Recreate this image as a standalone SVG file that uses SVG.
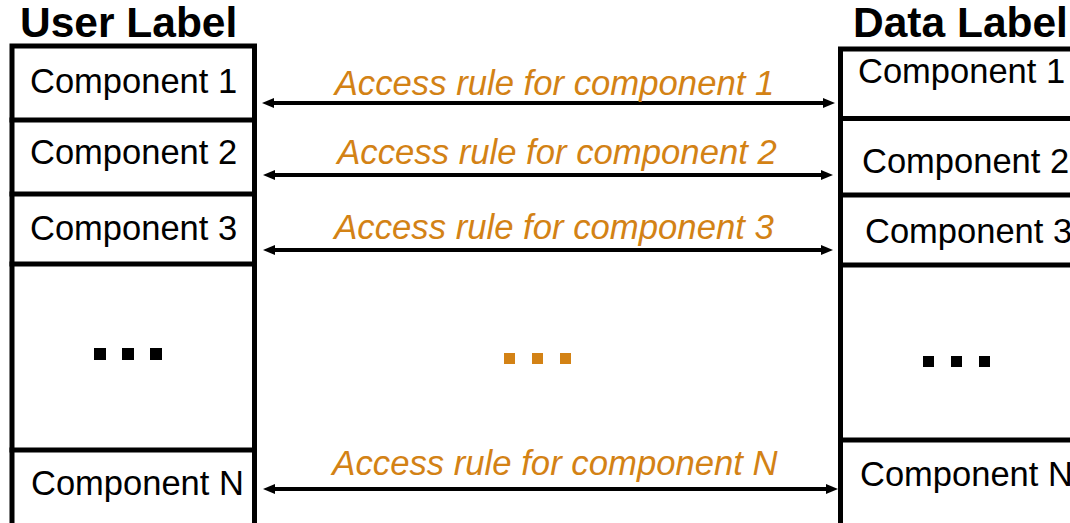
<svg xmlns="http://www.w3.org/2000/svg" width="1070" height="523" viewBox="0 0 1070 523">
  <style>
    .title { font-family: "Liberation Sans", Arial, sans-serif; font-weight: bold; font-size: 42.5px; fill: #000; }
    .comp { font-family: "Liberation Sans", Arial, sans-serif; font-size: 34.5px; fill: #000; }
    .rule { font-family: "Liberation Sans", Arial, sans-serif; font-style: italic; font-size: 34.7px; fill: #D38215; }
    .frame { stroke: #000; stroke-width: 5; fill: none; stroke-linecap: square; }
    .link { stroke: #000; stroke-width: 4; fill: none; }
    .dot { fill: #000; }
    .odot { fill: #D38215; }
  </style>
  <defs>
    <marker id="head" viewBox="0 -6 12 12" refX="0" refY="0" markerWidth="12" markerHeight="12" markerUnits="userSpaceOnUse" orient="auto-start-reverse">
      <path d="M0,-5 L12,0 L0,5 Z" fill="#000"/>
    </marker>
  </defs>

  <!-- user-side stack -->
  <g id="user-label"><text class="title" x="20" y="37">User Label</text></g>
  <g id="user-frame">
    <path class="frame" d="M12,530 V46 H254.5 V530"/>
  </g>
  <g id="user-c1"><text class="comp" x="30" y="93">Component 1</text></g>
  <g id="user-c2">
    <line class="frame" x1="12" y1="120" x2="254.5" y2="120"/>
    <text class="comp" x="30" y="164">Component 2</text>
  </g>
  <g id="user-c3">
    <line class="frame" x1="12" y1="194" x2="254.5" y2="194"/>
    <text class="comp" x="30" y="240">Component 3</text>
  </g>
  <g id="user-more">
    <line class="frame" x1="12" y1="264" x2="254.5" y2="264"/>
    <rect class="dot" x="94" y="348" width="12" height="12"/>
    <rect class="dot" x="122" y="348" width="12" height="12"/>
    <rect class="dot" x="150" y="348" width="12" height="12"/>
  </g>
  <g id="user-cN">
    <line class="frame" x1="12" y1="450" x2="254.5" y2="450"/>
    <text class="comp" x="31" y="495">Component N</text>
  </g>

  <!-- data-side stack -->
  <g id="data-label"><text class="title" x="853" y="37">Data Label</text></g>
  <g id="data-frame">
    <path class="frame" d="M840.5,530 V49 H1080"/>
  </g>
  <g id="data-c1"><text class="comp" x="858" y="83">Component 1</text></g>
  <g id="data-c2">
    <line class="frame" x1="840.5" y1="118.5" x2="1080" y2="118.5"/>
    <text class="comp" x="862" y="173">Component 2</text>
  </g>
  <g id="data-c3">
    <line class="frame" x1="840.5" y1="195" x2="1080" y2="195"/>
    <text class="comp" x="865" y="243">Component 3</text>
  </g>
  <g id="data-more">
    <line class="frame" x1="840.5" y1="265" x2="1080" y2="265"/>
    <rect class="dot" x="923" y="356" width="11" height="11"/>
    <rect class="dot" x="951" y="356" width="11" height="11"/>
    <rect class="dot" x="979" y="356" width="11" height="11"/>
  </g>
  <g id="data-cN">
    <line class="frame" x1="840.5" y1="440" x2="1080" y2="440"/>
    <text class="comp" x="860" y="486">Component N</text>
  </g>

  <!-- access rules between the stacks -->
  <g id="connectors">
    <line class="link" x1="274" y1="103" x2="823" y2="103" marker-start="url(#head)" marker-end="url(#head)"/>
    <line class="link" x1="275" y1="175" x2="821" y2="175" marker-start="url(#head)" marker-end="url(#head)"/>
    <line class="link" x1="275" y1="250" x2="821" y2="250" marker-start="url(#head)" marker-end="url(#head)"/>
    <line class="link" x1="275" y1="489" x2="826" y2="489" marker-start="url(#head)" marker-end="url(#head)"/>
    <text class="rule" x="554.5" y="95" text-anchor="middle">Access rule for component 1</text>
    <text class="rule" x="557" y="164" text-anchor="middle">Access rule for component 2</text>
    <text class="rule" x="554" y="239" text-anchor="middle">Access rule for component 3</text>
    <text class="rule" x="555" y="475" text-anchor="middle">Access rule for component N</text>
    <rect class="odot" x="504" y="353" width="11" height="11"/>
    <rect class="odot" x="532" y="353" width="11" height="11"/>
    <rect class="odot" x="560" y="353" width="11" height="11"/>
  </g>
</svg>
